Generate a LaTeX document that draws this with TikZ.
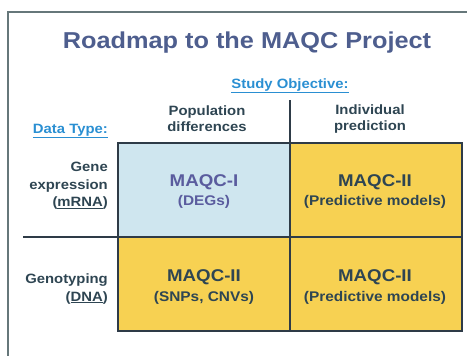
\documentclass[tikz,border=0pt]{standalone}
\usepackage{fontspec}
\setmainfont[FakeStretch=1.1]{Liberation Sans}
\usetikzlibrary{positioning}
\definecolor{framegray}{HTML}{66777A}
\definecolor{gridline}{HTML}{2E3B47}
\definecolor{titleblue}{HTML}{4E5E8E}
\definecolor{linkblue}{HTML}{2A8FD2}
\definecolor{labeltext}{HTML}{2E4552}
\definecolor{cellblue}{HTML}{CFE6EF}
\definecolor{cellyellow}{HTML}{F7D152}
\definecolor{maqcpurple}{HTML}{5A5C9E}
\tikzset{
  cell/.style     = {draw=gridline, line width=2pt, minimum width=172pt,
                     minimum height=94pt, inner sep=0pt, outer sep=0pt},
  maqc/.style     = {font=\fontsize{17}{20}\selectfont\bfseries, inner sep=0pt},
  maqcsub/.style  = {font=\fontsize{14}{17}\selectfont\bfseries, inner sep=0pt},
  headlbl/.style  = {font=\fontsize{13.5}{16}\selectfont\bfseries, text=labeltext,
                     align=center, inner sep=0pt},
  rowlbl/.style   = {font=\fontsize{13.5}{17.5}\selectfont\bfseries, text=labeltext,
                     align=right, anchor=east, inner sep=0pt},
  gridrule/.style = {draw=gridline, line width=2pt}
}
\begin{document}
\begin{tikzpicture}[x=1pt,y=-1pt]
	\useasboundingbox (0,0) rectangle (467,356);
	\draw[framegray, line width=1.5pt] (8,356) |- (467,12);
	\node[font=\fontsize{23}{26}\selectfont\bfseries, text=titleblue] (title) at (247,43) {Roadmap to the MAQC Project};
	\node[font=\fontsize{13.5}{16}\selectfont\bfseries, text=linkblue] (objective) at (290,86) {\underline{Study Objective:}};
	\node[headlbl] (popdiff) at (207,119) {Population\\differences};
	\node[headlbl] (indpred) at (370,119) {Individual\\prediction};
	\node[rowlbl, text=linkblue] (datatype) at (108,131) {\underline{Data Type:}};
	\node[rowlbl] (geneexp) at (108,186) {Gene\\expression\\(\underline{mRNA})};
	\node[rowlbl] (genotyp) at (108,289) {Genotyping\\(\underline{DNA})};
	\node[cell, fill=cellblue] (c11) at (204,190) {};
	\node[cell, fill=cellyellow] (c12) at (376,190) {};
	\node[cell, fill=cellyellow] (c21) at (204,284) {};
	\node[cell, fill=cellyellow] (c22) at (376,284) {};
	\node[maqc, text=maqcpurple] (m11) at (204,182) {MAQC-I};
	\node[maqcsub, text=maqcpurple] (s11) at (204,202) {(DEGs)};
	\node[maqc, text=labeltext] (m12) at (375,182) {MAQC-II};
	\node[maqcsub, text=labeltext] (s12) at (375,202) {(Predictive models)};
	\node[maqc, text=labeltext] (m21) at (204,277) {MAQC-II};
	\node[maqcsub, text=labeltext] (s21) at (204,298) {(SNPs, CNVs)};
	\node[maqc, text=labeltext] (m22) at (375,277) {MAQC-II};
	\node[maqcsub, text=labeltext] (s22) at (375,298) {(Predictive models)};
	\coordinate (hdtop) at (290,100);
	\coordinate (rowend) at (23,237);
	\draw[gridrule] (hdtop) -- (c12.north west);
	\draw[gridrule] (rowend) -- (c21.north west);
\end{tikzpicture}
\end{document}
